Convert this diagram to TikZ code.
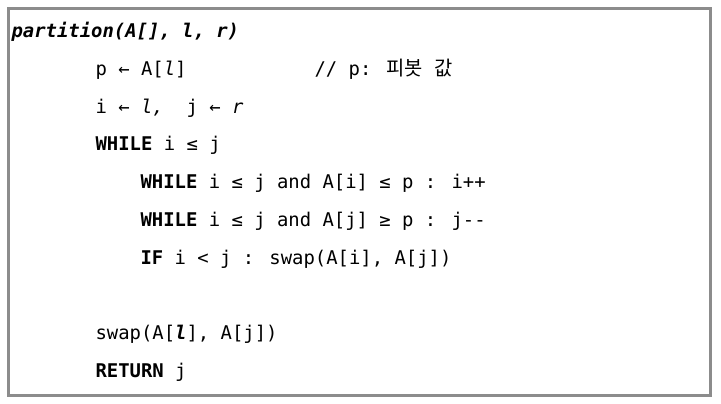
\documentclass[tikz,border=0pt]{standalone}
\usepackage{fontspec}
\newfontfamily\codefont{DejaVu Sans Mono}
\newfontfamily\krfont[Scale=1.05]{Noto Sans CJK KR}
\begin{document}
\begin{tikzpicture}[x=1bp,y=-1bp,
  codeline/.style={anchor=base west,inner sep=0pt,outer sep=0pt,
    font=\codefont\fontsize{18.9bp}{22bp}\selectfont},
  frameline/.style={draw=framegray,line width=3bp}]
\definecolor{framegray}{HTML}{8C8C8C}
\useasboundingbox (0,0) rectangle (721,403);
\draw[frameline] (8.5,8.5) rectangle (710.5,395);
\node[codeline] (l1) at (11.5,37.5) {\bfseries\itshape partition(A[], l, r)};
\node[codeline] (l2) at (95.5,75.3) {p ← A[\textit{l}]};
\node[codeline] (c2) at (314.5,75.3) {// p: {\krfont 피봇} {\krfont 값}};
\node[codeline] (l3) at (95.5,113.1) {i ← \textit{l,}\ \ j ← \textit{r}};
\node[codeline] (l4) at (95.5,150.9) {\textbf{WHILE} i ≤ j};
\node[codeline] (l5) at (140.5,188.7) {\textbf{WHILE} i ≤ j and A[i] ≤ p : i++};
\node[codeline] (l6) at (140.5,226.5) {\textbf{WHILE} i ≤ j and A[j] ≥ p : j-{}-};
\node[codeline] (l7) at (140.5,264.3) {\textbf{IF} i < j : swap(A[i], A[j])};
\node[codeline] (l9) at (95.5,339.9) {swap(A[\textbf{\textit{l}}], A[j])};
\node[codeline] (l10) at (95.5,377.7) {\textbf{RETURN} j};
\end{tikzpicture}
\end{document}
